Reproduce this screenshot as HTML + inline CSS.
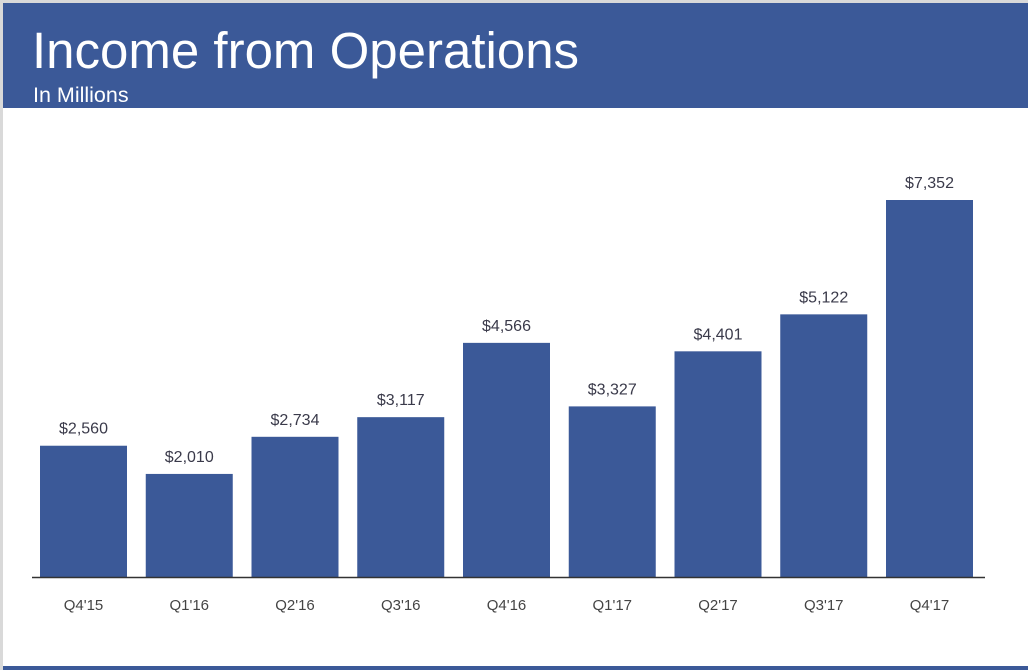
<!DOCTYPE html>
<html><head><meta charset="utf-8"><style>
html,body{margin:0;padding:0;background:#d9d9d9;}
#frame{position:relative;width:1028px;height:670px;overflow:hidden;background:#d9d9d9;font-family:"Liberation Sans",sans-serif;}
#page{position:absolute;left:3px;top:3px;width:1025px;height:667px;background:#fff;}
#hdr{position:absolute;left:0;top:0;width:1025px;height:105px;background:#3b5998;}
#title{position:absolute;left:29px;top:21px;color:#fff;font-size:51px;line-height:54px;}
#sub{position:absolute;left:30px;top:80px;color:#fff;font-size:21.5px;line-height:24px;}
#foot{position:absolute;left:0;top:663px;width:1025px;height:6px;background:#3b5998;}
svg{position:absolute;left:0;top:0;}
</style></head><body>
<div id="frame">
<div id="page">
<div id="hdr">
<div id="title">Income from Operations</div>
<div id="sub">In Millions</div>
</div>
<div id="foot"></div>
</div>
<svg id="chart" width="1028" height="670"></svg>
</div>
<script>
const categories=["Q4'15","Q1'16","Q2'16","Q3'16","Q4'16","Q1'17","Q2'17","Q3'17","Q4'17"];
const values=[2560,2010,2734,3117,4566,3327,4401,5122,7352];
const valueLabels=["$2,560","$2,010","$2,734","$3,117","$4,566","$3,327","$4,401","$5,122","$7,352"];
const NS="http://www.w3.org/2000/svg";
const svg=document.getElementById('chart');
const baseY=577, pxPerUnit=377/7352, x0=40, step=105.75, bw=87;
function yScale(v){return baseY-v*pxPerUnit;}
function xScale(i){return x0+i*step;}
function mk(t,a){const e=document.createElementNS(NS,t);for(const k in a)e.setAttribute(k,a[k]);svg.appendChild(e);return e;}
categories.forEach((c,i)=>{
  const y=yScale(values[i]);
  const r=mk('rect',{x:xScale(i),y:y,width:bw,height:baseY-y,fill:'#3b5998'});
  
  
  const t=mk('text',{x:xScale(i)+bw/2,y:y-12,'text-anchor':'middle','font-size':'16','fill':'#3a3a4a','font-family':'Liberation Sans, sans-serif'});
  t.textContent=valueLabels[i];
  
  
  const l=mk('text',{x:xScale(i)+bw/2,y:baseY+33,'text-anchor':'middle','font-size':'15','fill':'#444','font-family':'Liberation Sans, sans-serif'});
  l.textContent=c;
  
  
});
const ax=mk('line',{x1:32,x2:985,y1:baseY+0.5,y2:baseY+0.5,stroke:'#333','stroke-width':1.5});


</script>
</body></html>
